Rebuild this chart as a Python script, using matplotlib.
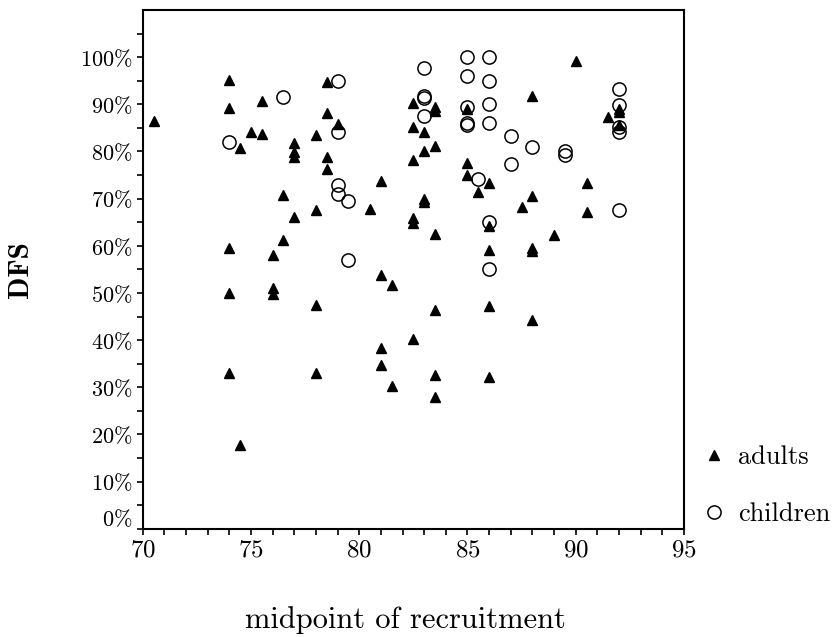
import matplotlib
matplotlib.use("Agg")
import matplotlib.pyplot as plt
from matplotlib.transforms import ScaledTranslation

plt.rcParams['mathtext.fontset'] = 'cm'
plt.rcParams['font.family'] = ['cmr10', 'DejaVu Serif']
plt.rcParams['axes.unicode_minus'] = False

adults_x = [70.5, 74.0, 74.0, 75.5, 75.0, 75.5, 74.5, 77.0, 77.0, 77.0, 78.0, 78.5, 78.5, 79.0,
            78.5, 78.5, 76.5, 77.0, 78.0, 76.5, 74.0, 76.0, 82.5, 83.5, 83.5, 85.0, 82.5, 83.0,
            83.5, 83.0, 82.5, 85.0, 85.0, 86.0, 85.5, 88.0, 88.0, 87.5, 81.0, 80.5, 83.0, 83.0,
            82.5, 82.5, 83.5, 86.0, 86.0, 88.0, 88.0, 81.0, 90.0, 92.0, 92.0, 91.5, 92.0, 90.5,
            90.5, 89.0, 74.0, 76.0, 76.0, 78.0, 74.0, 78.0, 74.5, 81.5, 83.5, 86.0, 88.0, 82.5,
            81.0, 81.0, 83.5, 86.0, 81.5, 83.5]
adults_y = [86.5, 95.2, 89.2, 90.8, 84.2, 83.7, 80.7, 81.8, 79.8, 78.8, 83.5, 94.8, 88.1, 85.8,
            78.8, 76.2, 70.8, 66.1, 67.5, 61.2, 59.5, 58.1, 90.2, 89.4, 88.5, 89.1, 85.1, 84.2,
            81.2, 80.2, 78.1, 77.6, 75.0, 73.4, 71.4, 91.8, 70.6, 68.3, 73.8, 67.8, 70.0, 69.3,
            65.8, 64.9, 62.5, 64.1, 59.1, 59.5, 58.8, 53.9, 99.1, 89.0, 88.3, 87.3, 85.6, 73.4,
            67.2, 62.3, 49.9, 51.0, 49.8, 47.5, 33.0, 33.0, 17.8, 51.7, 46.4, 47.2, 44.3, 40.2,
            38.4, 34.7, 32.6, 32.1, 30.3, 28.0]

children_x = [76.5, 74.0, 79.0, 79.0, 79.0, 79.0, 79.5, 79.5, 83.0, 83.0, 83.0, 83.0, 85.0, 86.0,
              85.0, 86.0, 85.0, 86.0, 85.0, 85.0, 86.0, 87.0, 88.0, 87.0, 85.5, 86.0, 86.0, 92.0,
              92.0, 92.0, 92.0, 89.5, 89.5, 92.0]
children_y = [91.6, 82.1, 95.0, 84.2, 72.9, 71.0, 69.6, 56.9, 97.7, 91.8, 91.4, 87.5, 100.0, 100.0,
              96.0, 95.0, 89.4, 90.1, 86.1, 85.6, 86.0, 83.2, 81.0, 77.3, 74.2, 65.0, 55.0, 93.2,
              89.9, 85.1, 84.2, 80.2, 79.3, 67.6]

x_ticks = [70, 75, 80, 85, 90, 95]
y_ticks = list(range(0, 101, 10))
y_ticklabels = [r'$%d\%%$' % v for v in y_ticks]

fig = plt.figure(figsize=(8.34, 6.37), dpi=100)
ax = fig.add_axes([0.1711, 0.170, 0.6490, 0.8143])

ax.plot(adults_x, adults_y, linestyle='none', marker='^', markersize=7.5,
        color='black', label='adults')
ax.plot(children_x, children_y, linestyle='none', marker='o', markersize=9.5,
        markerfacecolor='none', markeredgecolor='black', markeredgewidth=1.1,
        label='children')

ax.set_xlim(70, 95)
ax.set_ylim(0, 110)
ax.set_xticks(x_ticks)
ax.set_xticklabels([r'$%d$' % v for v in x_ticks], fontsize=18)
ax.set_xticks(range(70, 96), minor=True)
ax.set_yticks(y_ticks)
ax.set_yticklabels(y_ticklabels, fontsize=16)
ax.set_yticks(range(0, 110, 5), minor=True)

for s in ax.spines.values():
    s.set_linewidth(1.5)
ax.tick_params(which='both', direction='out', length=4.5, width=1.2, color='black')
ax.tick_params(axis='x', pad=3)
ax.tick_params(axis='y', pad=3)

# the 0% label sits slightly above its tick in the reference
lbl0 = ax.get_yticklabels()[0]
lbl0.set_transform(lbl0.get_transform() + ScaledTranslation(0, 8 / 72, fig.dpi_scale_trans))

ax.set_xlabel('midpoint of recruitment', fontsize=22, labelpad=32, x=0.486)
ax.set_ylabel('DFS', fontsize=21, fontfamily='cmb10')
ax.yaxis.set_label_coords(-0.20, 0.50)

leg = ax.legend(loc='lower left', bbox_to_anchor=(1.0, -0.03), frameon=False,
                fontsize=19, handlelength=0.9, handletextpad=0.45, labelspacing=1.25,
                borderaxespad=0.3)

fig.savefig('out.png', dpi=100)
